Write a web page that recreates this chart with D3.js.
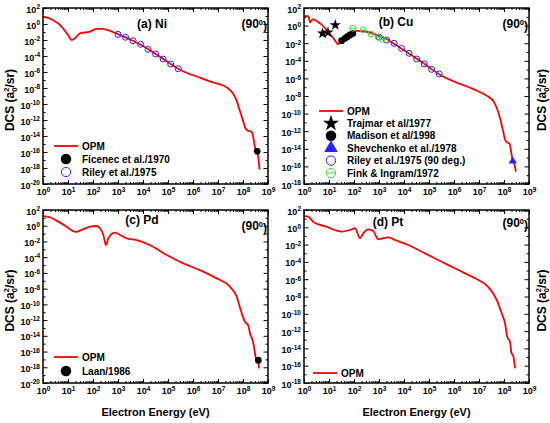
<!DOCTYPE html>
<meta charset="utf-8">
<head>
<title>DCS at 90 degrees - Ni, Cu, Pd, Pt</title>
<style>
body { margin: 0; background: #fff; }
svg { font-family: "Liberation Sans", Arial, sans-serif; font-weight: bold; }
</style>
</head>
<body>
<script src="https://cdn.jsdelivr.net/npm/d3@7/dist/d3.min.js"></script>
<script>

// ---- data (energies in eV, DCS in a0^2/sr) ----
var xTickExps = [0, 1, 2, 3, 4, 5, 6, 7, 8, 9];

// (a) Ni
var niE   = [1, 2.5, 5.6, 10, 14, 19, 30, 76, 140, 250, 480, 1000, 3160, 1e4, 3.16e4, 1e5, 3.16e5, 1.9e6, 6.3e6, 2.24e7, 4e7, 5.6e7, 7.6e7, 1e8, 1.26e8, 1.5e8, 2.24e8, 2.6e8, 2.95e8, 3.7e8, 4.2e8, 4.6e8];
var niDCS = [8.1, 3.2, 0.46, 0.042, 0.01, 0.016, 0.069, 0.11, 0.25, 0.24, 0.14, 0.054, 0.011, 1.8e-3, 1.9e-4, 1.7e-5, 1.8e-6, 1.95e-7, 5e-8, 1.2e-8, 2e-9, 2.5e-10, 1.26e-11, 8e-13, 9e-14, 5e-14, 3.2e-14, 6.3e-15, 5e-16, 1.26e-16, 1e-17, 6.3e-19];
var niRileyE   = [1000, 2000, 4000, 8000, 16000, 32000, 64000, 128000, 256000];
var niRileyDCS = [5.1e-2, 2.2e-2, 8.1e-3, 2.9e-3, 6.9e-4, 1.8e-4, 4.2e-5, 1.0e-5, 2.6e-6];
var niFicenecE = [3.7e8], niFicenecDCS = [1.2e-16];

// (b) Cu
var cuE   = [1, 1.5, 1.75, 2.2, 4.4, 9.3, 17, 23, 32, 59, 130, 320, 810, 1740, 3160, 1e4, 3.16e4, 1e5, 3.16e5, 1e6, 6.9e6, 2e7, 4e7, 6.9e7, 8.9e7, 1.12e8, 1.32e8, 1.66e8, 2e8, 2.24e8, 2.63e8, 3e8];
var cuDCS = [12, 12, 2.2, 5.2, 1.8, 0.2, 0.023, 7.4e-3, 0.023, 0.13, 0.25, 0.2, 0.085, 0.036, 0.013, 1.6e-3, 1.8e-4, 1.9e-5, 2e-6, 4.5e-7, 5e-8, 1.1e-8, 2e-9, 3.2e-11, 1.6e-12, 1e-13, 5.6e-14, 4e-14, 2.5e-15, 5e-16, 1.6e-16, 2.5e-17];
var cuTrajmarE = [5.5, 9.1, 17.8], cuTrajmarDCS = [0.13, 0.17, 1.17];
var cuMadisonE = [32, 44, 54, 69, 89], cuMadisonDCS = [0.019, 0.036, 0.055, 0.085, 0.13];
var cuShevE = [2.24e8], cuShevDCS = [4e-16];
var cuRileyE   = [1000, 2000, 4000, 8000, 16000, 32000, 64000, 128000, 256000];
var cuRileyDCS = [0.05, 0.023, 9.8e-3, 2.6e-3, 7.1e-4, 1.6e-4, 4.4e-5, 1.07e-5, 3.2e-6];
var cuFinkE = [89, 234, 479, 933, 1349], cuFinkDCS = [0.49, 0.32, 0.11, 0.047, 0.028];

// (c) Pd
var pdE   = [1, 1.9, 4.1, 8.9, 16, 22, 35, 76, 140, 190, 260, 330, 410, 560, 760, 1200, 2240, 5600, 1.9e4, 8.9e4, 4.1e5, 1.9e6, 8.9e6, 3e7, 5.6e7, 8.1e7, 1.2e8, 1.6e8, 2e8, 2.3e8, 2.75e8, 3.3e8, 4e8, 4.4e8];
var pdDCS = [17, 12, 3.3, 0.76, 0.21, 0.17, 0.29, 0.76, 0.93, 0.47, 0.066, 3.5e-3, 0.025, 0.089, 0.13, 0.066, 0.025, 0.015, 3.5e-3, 1.9e-4, 1.66e-5, 2.3e-6, 2e-7, 1.8e-8, 9.5e-10, 1.9e-11, 6.2e-13, 2.3e-13, 1.26e-14, 5e-15, 4e-16, 1.35e-17, 6.3e-18, 7e-19];
var pdLaanE = [4.1e8], pdLaanDCS = [8e-18];

// (d) Pt
var ptE   = [1, 1.5, 2.3, 4.4, 9.3, 20, 32, 69, 110, 174, 234, 370, 590, 930, 1260, 2340, 4400, 1.5e4, 6.9e4, 3.2e5, 1.5e6, 6.9e6, 2.3e7, 5.1e7, 8.1e7, 1.1e8, 1.35e8, 1.74e8, 2e8, 2.3e8, 2.75e8, 2.95e8];
var ptDCS = [20, 17, 4.5, 1.9, 1.0, 0.41, 0.32, 0.49, 0.78, 0.054, 0.2, 0.59, 0.37, 0.041, 0.05, 0.069, 0.034, 8.9e-3, 9.8e-4, 1.05e-4, 1.15e-5, 1.26e-6, 1.35e-7, 4e-9, 1.1e-10, 7.9e-12, 2.2e-13, 5.9e-14, 2.7e-15, 1.7e-15, 7.6e-17, 5e-17];

// ---- drawing ----
var svg = d3.select("body").append("svg")
    .attr("width", 550)
    .attr("height", 423);

var red = "#ff0000", blue = "#2424ff", green = "#3ddc3d";

// puts "10" with a raised exponent into a text element
function pow10(t, e) {
  t.text("10");
  t.append("tspan").attr("dy", "-0.5em").style("font-size", "6.5px").text(e);
}

function drawPanel(p) {
  var x = d3.scaleLog().domain([1, 1e9]).range([p.left, p.right]);
  var y = d3.scaleLog().domain([Math.pow(10, p.yMinExp), 100]).range([p.bottom, p.top]);
  var g = svg.append("g");

  var xMajor = xTickExps.map(function(e) { return Math.pow(10, e); });
  var xMinor = [];
  xTickExps.slice(0, -1).forEach(function(e) {
    for (var m = 2; m < 10; m++) xMinor.push(m * Math.pow(10, e));
  });
  var yMajor = [], yMinor = [];
  for (var e = p.yMinExp; e <= 2; e++) {
    if ((2 - e) % 2 == 0) yMajor.push(Math.pow(10, e)); else yMinor.push(Math.pow(10, e));
  }

  function ax(axis, tr, vals, size) {
    var a = g.append("g").attr("transform", tr)
      .call(axis.tickValues(vals).tickSize(-size).tickSizeOuter(0).tickFormat(""));
    a.select(".domain").remove();
    a.selectAll("line").attr("stroke", "#000");
    return a;
  }

  ax(d3.axisBottom(x), "translate(0," + p.bottom + ")", xMinor, 2);
  ax(d3.axisTop(x), "translate(0," + p.top + ")", xMinor, 2);
  ax(d3.axisTop(x), "translate(0," + p.top + ")", xMajor, 4);
  ax(d3.axisLeft(y), "translate(" + p.left + ",0)", yMinor, 2.5);
  ax(d3.axisRight(y), "translate(" + p.right + ",0)", yMinor, 2.5);
  ax(d3.axisRight(y), "translate(" + p.right + ",0)", yMajor, 4.5);

  var xa = ax(d3.axisBottom(x).tickPadding(5), "translate(0," + p.bottom + ")", xMajor, 4);
  xa.attr("font-family", null).attr("font-size", 9).attr("font-weight", "bold");
  xa.selectAll(".tick text").each(function(d) { pow10(d3.select(this), Math.round(Math.log10(d))); });

  var ya = ax(d3.axisLeft(y).tickPadding(3), "translate(" + p.left + ",0)", yMajor, 4.5);
  ya.attr("font-family", null).attr("font-size", 9).attr("font-weight", "bold");
  ya.selectAll(".tick text").attr("dy", "0.45em")
    .each(function(d) { pow10(d3.select(this), Math.round(Math.log10(d))); });

  // OPM curve
  var line = d3.line()
      .x(function(d) { return x(d[0]); })
      .y(function(d) { return y(d[1]); })
      .curve(d3.curveMonotoneX);
  g.append("path")
      .datum(d3.zip(p.E, p.DCS))
      .attr("fill", "none")
      .attr("stroke", red)
      .attr("stroke-width", 1.8)
      .attr("d", line);

  // experimental points
  p.sets.forEach(function(s) {
    var pts = d3.zip(s.E, s.DCS);
    pts.forEach(function(d) {
      marker(g, s.kind, x(d[0]), y(d[1]), false);
    });
  });

  // frame
  g.append("rect")
      .attr("x", p.left).attr("y", p.top)
      .attr("width", p.right - p.left).attr("height", p.bottom - p.top)
      .attr("fill", "none").attr("stroke", "#000").attr("stroke-width", 1.5);

  // panel title and angle
  g.append("text").attr("x", p.titleX).attr("y", p.titleY)
      .attr("text-anchor", "middle").style("font-size", "12px").text(p.title);
  var ang = g.append("text").attr("x", p.right - 1).attr("y", p.angY)
      .attr("text-anchor", "end").style("font-size", "12px").text("(90");
  ang.append("tspan").attr("dy", "-0.45em").style("font-size", "7.5px").text("0");
  ang.append("tspan").attr("dy", "0.45em").text(")");

  // y axis title
  var yt = g.append("text")
      .attr("transform", "translate(" + p.yTitleX + "," + ((p.top + p.bottom) / 2 + 4) + ") rotate(-90)")
      .attr("text-anchor", "middle").style("font-size", "12px").text("DCS (a");
  yt.append("tspan").attr("dy", "3").style("font-size", "7.5px").text("0");
  yt.append("tspan").attr("dx", "-4.2").attr("dy", "-8").style("font-size", "7.5px").text("2");
  yt.append("tspan").attr("dy", "5").text("/sr)");

  if (p.xTitle) {
    g.append("text").attr("x", (p.left + p.right) / 2).attr("y", 416)
        .attr("text-anchor", "middle").style("font-size", "11px").text("Electron Energy (eV)");
  }

  // legend
  var ly = p.legendY;
  g.append("line").attr("x1", p.legendX - 12).attr("x2", p.legendX + 12)
      .attr("y1", ly).attr("y2", ly).attr("stroke", red).attr("stroke-width", 1.8);
  g.append("text").attr("x", p.legendX + 16).attr("y", ly + 3.5)
      .style("font-size", "10px").text("OPM");
  p.sets.forEach(function(s, i) {
    var yy = ly + (i + 1) * p.legendStep;
    marker(g, s.kind, p.legendX, yy, true);
    g.append("text").attr("x", p.legendX + 16).attr("y", yy + 3.5)
        .style("font-size", "10px").text(s.name);
  });
}

function marker(g, kind, cx, cy, big) {
  var k = big ? 1.55 : 1;
  if (kind == "dot") {
    g.append("circle").attr("cx", cx).attr("cy", cy).attr("r", 3.4 * k).attr("fill", "#000");
  } else if (kind == "open") {
    g.append("circle").attr("cx", cx).attr("cy", cy).attr("r", 3 * k)
        .attr("fill", "none").attr("stroke", blue).attr("stroke-width", 1);
  } else if (kind == "fink") {
    g.append("circle").attr("cx", cx).attr("cy", cy).attr("r", 3 * k)
        .attr("fill", "none").attr("stroke", green).attr("stroke-width", 1);
    g.append("line").attr("x1", cx - 3 * k).attr("x2", cx + 3 * k).attr("y1", cy).attr("y2", cy)
        .attr("stroke", green).attr("stroke-width", 1);
  } else if (kind == "star") {
    g.append("path").attr("transform", "translate(" + cx + "," + cy + ")")
        .attr("d", d3.symbol(d3.symbolStar, big ? 80 : 40)()).attr("fill", "#000");
  } else if (kind == "tri") {
    g.append("path").attr("transform", "translate(" + cx + "," + cy + ")")
        .attr("d", d3.symbol(d3.symbolTriangle, big ? 80 : 30)()).attr("fill", blue);
  }
}

drawPanel({
  left: 43, right: 268, top: 8, bottom: 184, yMinExp: -20,
  E: niE, DCS: niDCS, title: "(a) Ni", titleX: 152, titleY: 28, angY: 28,
  yTitleX: 14, xTitle: false, legendX: 66, legendY: 146, legendStep: 13,
  sets: [
    {name: "Ficenec et al./1970", kind: "dot", E: niFicenecE, DCS: niFicenecDCS},
    {name: "Riley et al./1975", kind: "open", E: niRileyE, DCS: niRileyDCS}
  ]
});

drawPanel({
  left: 304, right: 529, top: 8, bottom: 184, yMinExp: -18,
  E: cuE, DCS: cuDCS, title: "(b) Cu", titleX: 396, titleY: 26, angY: 28,
  yTitleX: 546, xTitle: false, legendX: 331, legendY: 111, legendStep: 12.4,
  sets: [
    {name: "Trajmar et al/1977", kind: "star", E: cuTrajmarE, DCS: cuTrajmarDCS},
    {name: "Madison et al/1998", kind: "dot", E: cuMadisonE, DCS: cuMadisonDCS},
    {name: "Shevchenko et al./1978", kind: "tri", E: cuShevE, DCS: cuShevDCS},
    {name: "Riley et al./1975 (90 deg.)", kind: "open", E: cuRileyE, DCS: cuRileyDCS},
    {name: "Fink & Ingram/1972", kind: "fink", E: cuFinkE, DCS: cuFinkDCS}
  ]
});

drawPanel({
  left: 43, right: 268, top: 210, bottom: 383, yMinExp: -20,
  E: pdE, DCS: pdDCS, title: "(c) Pd", titleX: 142, titleY: 224, angY: 230,
  yTitleX: 14, xTitle: true, legendX: 66, legendY: 357, legendStep: 14,
  sets: [
    {name: "Laan/1986", kind: "dot", E: pdLaanE, DCS: pdLaanDCS}
  ]
});

drawPanel({
  left: 304, right: 529, top: 210, bottom: 383, yMinExp: -18,
  E: ptE, DCS: ptDCS, title: "(d) Pt", titleX: 388, titleY: 226, angY: 227,
  yTitleX: 546, xTitle: true, legendX: 325, legendY: 373, legendStep: 14,
  sets: []
});

</script>
</body>
